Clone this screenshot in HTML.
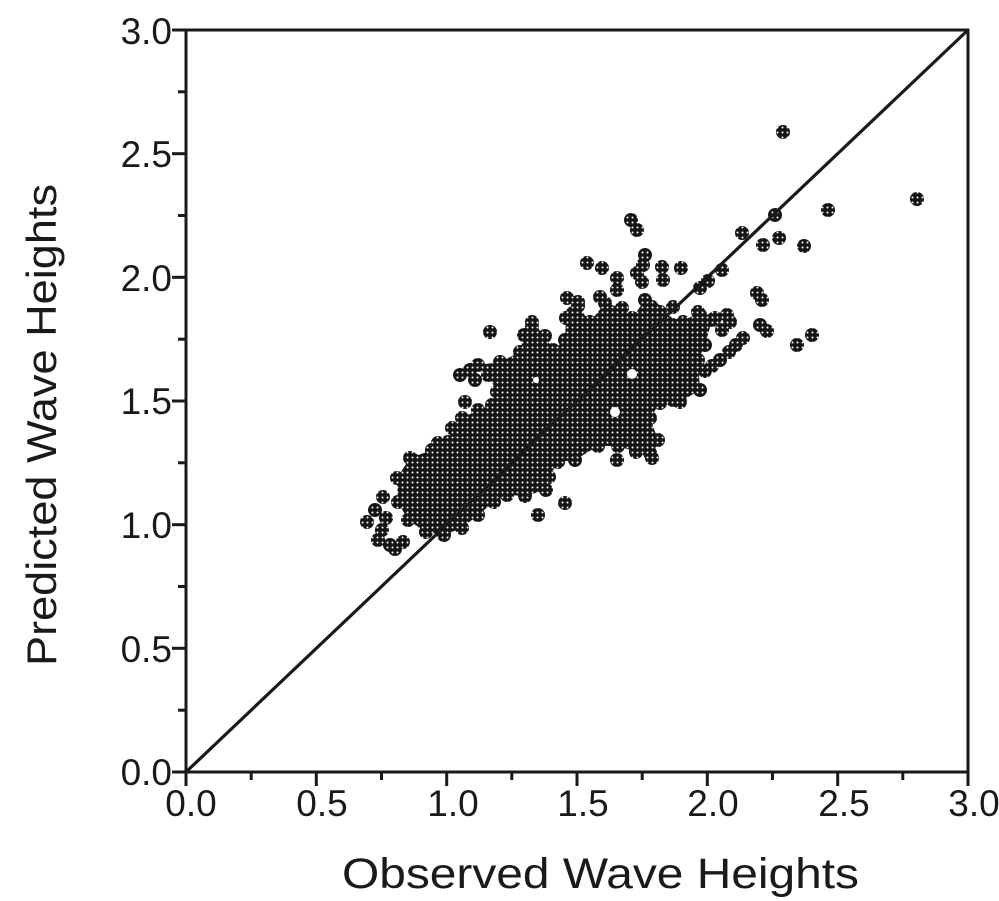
<!DOCTYPE html>
<html><head><meta charset="utf-8"><style>
html,body{margin:0;padding:0;background:#fff;}
svg{display:block;}
text{font-family:"Liberation Sans",Arial,sans-serif;fill:#1a1a1a;}
</style></head><body>
<svg width="999" height="901" viewBox="0 0 999 901" xmlns="http://www.w3.org/2000/svg">
<defs>
<pattern id="dots" width="5" height="5" patternUnits="userSpaceOnUse">
<rect width="5" height="5" fill="#151515"/>
<circle cx="2.5" cy="2.5" r="1.0" fill="#ffffff"/>
</pattern>
</defs>
<rect width="999" height="901" fill="#fff"/>

<!-- scatter core -->
<g fill="url(#dots)">
<polygon points="397,478 410,458 432,450 448,442 452,428 462,418 478,410 492,405 497,392 488,375 478,365 500,362 520,352 524,335 532,322 545,336 553,350 565,340 566,318 578,306 590,322 605,303 622,308 632,318 645,300 660,312 683,322 698,312 712,320 705,345 698,360 700,390 680,402 660,403 650,418 658,440 652,458 636,452 618,446 598,446 575,460 558,462 549,477 546,490 525,496 507,495 494,502 478,515 462,528 444,535 426,532 408,520 398,502"/>
<g>
<circle cx="397" cy="478" r="7"/><circle cx="410" cy="458" r="7"/><circle cx="432" cy="450" r="7"/><circle cx="448" cy="442" r="7"/><circle cx="452" cy="428" r="7"/><circle cx="462" cy="418" r="7"/><circle cx="478" cy="410" r="7"/><circle cx="492" cy="405" r="7"/><circle cx="497" cy="392" r="7"/><circle cx="488" cy="375" r="7"/><circle cx="478" cy="365" r="7"/><circle cx="500" cy="362" r="7"/><circle cx="520" cy="352" r="7"/><circle cx="524" cy="335" r="7"/><circle cx="532" cy="322" r="7"/><circle cx="545" cy="336" r="7"/><circle cx="553" cy="350" r="7"/><circle cx="565" cy="340" r="7"/><circle cx="566" cy="318" r="7"/><circle cx="578" cy="306" r="7"/><circle cx="590" cy="322" r="7"/><circle cx="605" cy="303" r="7"/><circle cx="622" cy="308" r="7"/><circle cx="632" cy="318" r="7"/><circle cx="645" cy="300" r="7"/><circle cx="660" cy="312" r="7"/><circle cx="683" cy="322" r="7"/><circle cx="698" cy="312" r="7"/><circle cx="712" cy="320" r="7"/><circle cx="705" cy="345" r="7"/><circle cx="698" cy="360" r="7"/><circle cx="700" cy="390" r="7"/><circle cx="680" cy="402" r="7"/><circle cx="660" cy="403" r="7"/><circle cx="650" cy="418" r="7"/><circle cx="658" cy="440" r="7"/><circle cx="652" cy="458" r="7"/><circle cx="636" cy="452" r="7"/><circle cx="618" cy="446" r="7"/><circle cx="598" cy="446" r="7"/><circle cx="575" cy="460" r="7"/><circle cx="558" cy="462" r="7"/><circle cx="549" cy="477" r="7"/><circle cx="546" cy="490" r="7"/><circle cx="525" cy="496" r="7"/><circle cx="507" cy="495" r="7"/><circle cx="494" cy="502" r="7"/><circle cx="478" cy="515" r="7"/><circle cx="462" cy="528" r="7"/><circle cx="444" cy="535" r="7"/><circle cx="426" cy="532" r="7"/><circle cx="408" cy="520" r="7"/><circle cx="398" cy="502" r="7"/>
</g>
<!-- outlying markers -->
<g>
<circle cx="783" cy="132" r="7"/><circle cx="917" cy="199" r="7"/><circle cx="828" cy="210" r="7"/><circle cx="775" cy="215" r="7"/><circle cx="742" cy="233" r="7"/><circle cx="763" cy="245" r="7"/><circle cx="779" cy="238" r="7"/><circle cx="804" cy="246" r="7"/><circle cx="722" cy="270" r="7"/><circle cx="700" cy="288" r="7"/><circle cx="708" cy="281" r="7"/><circle cx="757" cy="293" r="7"/><circle cx="762" cy="300" r="7"/><circle cx="727" cy="315" r="7"/><circle cx="760" cy="325" r="7"/><circle cx="767" cy="331" r="7"/><circle cx="797" cy="345" r="7"/><circle cx="812" cy="335" r="7"/>
<circle cx="631" cy="220" r="7"/><circle cx="637" cy="230" r="7"/><circle cx="645" cy="255" r="7"/><circle cx="643" cy="265" r="7"/><circle cx="637" cy="273" r="7"/><circle cx="642" cy="282" r="7"/><circle cx="662" cy="267" r="7"/><circle cx="663" cy="280" r="7"/><circle cx="587" cy="263" r="7"/><circle cx="602" cy="268" r="7"/><circle cx="617" cy="278" r="7"/><circle cx="617" cy="290" r="7"/><circle cx="600" cy="297" r="7"/><circle cx="681" cy="268" r="7"/><circle cx="652" cy="307" r="7"/><circle cx="673" cy="307" r="7"/>
<circle cx="743" cy="338" r="7"/><circle cx="736" cy="345" r="7"/><circle cx="729" cy="352" r="7"/><circle cx="720" cy="360" r="7"/><circle cx="712" cy="366" r="7"/><circle cx="705" cy="371" r="7"/><circle cx="722" cy="330" r="7"/><circle cx="730" cy="322" r="7"/><circle cx="715" cy="318" r="7"/><circle cx="700" cy="315" r="7"/><circle cx="690" cy="352" r="7"/><circle cx="670" cy="370" r="7"/><circle cx="692" cy="385" r="7"/><circle cx="673" cy="400" r="7"/><circle cx="647" cy="403" r="7"/><circle cx="637" cy="423" r="7"/><circle cx="645" cy="433" r="7"/><circle cx="650" cy="453" r="7"/><circle cx="617" cy="460" r="7"/>
<circle cx="565" cy="503" r="7"/><circle cx="538" cy="515" r="7"/><circle cx="567" cy="298" r="7"/><circle cx="578" cy="302" r="7"/><circle cx="573" cy="313" r="7"/><circle cx="532" cy="327" r="7"/><circle cx="533" cy="340" r="7"/><circle cx="490" cy="332" r="7"/><circle cx="460" cy="375" r="7"/><circle cx="475" cy="380" r="7"/><circle cx="470" cy="370" r="7"/><circle cx="465" cy="402" r="7"/><circle cx="438" cy="443" r="7"/><circle cx="413" cy="460" r="7"/>
<circle cx="383" cy="497" r="7"/><circle cx="375" cy="510" r="7"/><circle cx="367" cy="522" r="7"/><circle cx="382" cy="530" r="7"/><circle cx="378" cy="540" r="7"/><circle cx="390" cy="545" r="7"/><circle cx="403" cy="542" r="7"/><circle cx="395" cy="549" r="7"/><circle cx="386" cy="518" r="7"/>
</g>
</g>
<!-- small holes -->
<g fill="#fff">
<circle cx="615" cy="412" r="5"/>
<circle cx="632" cy="374" r="5"/>
<circle cx="536" cy="380" r="3"/>
</g>

<!-- diagonal 1:1 line -->
<line x1="186" y1="772" x2="968" y2="30" stroke="#1a1a1a" stroke-width="3.2"/>

<!-- axes box -->
<g stroke="#1a1a1a" stroke-width="3" fill="none">
<rect x="186" y="30" width="782" height="742"/>
</g>

<!-- ticks -->
<g stroke="#1a1a1a" stroke-width="3">
<line x1="186" y1="772" x2="186" y2="786"/>
<line x1="316.3" y1="772" x2="316.3" y2="786"/>
<line x1="446.7" y1="772" x2="446.7" y2="786"/>
<line x1="577" y1="772" x2="577" y2="786"/>
<line x1="707.3" y1="772" x2="707.3" y2="786"/>
<line x1="837.7" y1="772" x2="837.7" y2="786"/>
<line x1="968" y1="772" x2="968" y2="786"/>
<line x1="251.2" y1="772" x2="251.2" y2="780"/>
<line x1="381.5" y1="772" x2="381.5" y2="780"/>
<line x1="511.8" y1="772" x2="511.8" y2="780"/>
<line x1="642.2" y1="772" x2="642.2" y2="780"/>
<line x1="772.5" y1="772" x2="772.5" y2="780"/>
<line x1="902.8" y1="772" x2="902.8" y2="780"/>
<line x1="172" y1="772" x2="186" y2="772"/>
<line x1="172" y1="648.3" x2="186" y2="648.3"/>
<line x1="172" y1="524.7" x2="186" y2="524.7"/>
<line x1="172" y1="401" x2="186" y2="401"/>
<line x1="172" y1="277.3" x2="186" y2="277.3"/>
<line x1="172" y1="153.7" x2="186" y2="153.7"/>
<line x1="172" y1="30" x2="186" y2="30"/>
<line x1="178" y1="710.2" x2="186" y2="710.2"/>
<line x1="178" y1="586.5" x2="186" y2="586.5"/>
<line x1="178" y1="462.8" x2="186" y2="462.8"/>
<line x1="178" y1="339.2" x2="186" y2="339.2"/>
<line x1="178" y1="215.5" x2="186" y2="215.5"/>
<line x1="178" y1="91.8" x2="186" y2="91.8"/>
</g>

<!-- y tick labels -->
<g font-size="37" text-anchor="end">
<text x="172" y="785">0.0</text>
<text x="172" y="662">0.5</text>
<text x="172" y="538">1.0</text>
<text x="172" y="414">1.5</text>
<text x="172" y="291">2.0</text>
<text x="172" y="167">2.5</text>
<text x="172" y="44">3.0</text>
</g>
<!-- x tick labels -->
<g font-size="37" text-anchor="middle">
<text x="191" y="816">0.0</text>
<text x="322" y="816">0.5</text>
<text x="453" y="816">1.0</text>
<text x="583" y="816">1.5</text>
<text x="713" y="816">2.0</text>
<text x="844" y="816">2.5</text>
<text x="974" y="816">3.0</text>
</g>

<!-- axis titles -->
<text x="342" y="888" font-size="43" textLength="517" lengthAdjust="spacingAndGlyphs">Observed Wave Heights</text>
<text transform="translate(56,425) rotate(-90)" font-size="42" text-anchor="middle" textLength="482" lengthAdjust="spacingAndGlyphs">Predicted Wave Heights</text>
</svg>
</body></html>
